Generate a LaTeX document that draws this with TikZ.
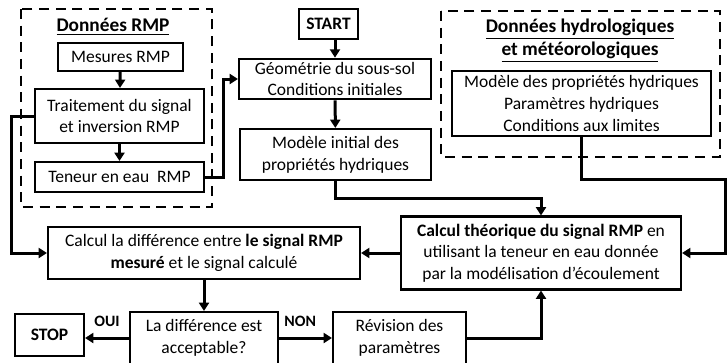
\documentclass[tikz,border=0pt]{standalone}
\usepackage{fontspec}
\setmainfont{Carlito}
\usetikzlibrary{arrows.meta,positioning}
\newcommand{\flfont}{\fontsize{10.5}{13}\selectfont}
\tikzset{
  flbox/.style={draw, line width=1.25pt, align=center, inner sep=2pt, font=\flfont},
  flframe/.style={draw, line width=1.5pt, dash pattern=on 6pt off 4pt},
  fltitle/.style={align=center, inner sep=0pt, font=\fontsize{11.6}{13.8}\selectfont\bfseries},
  flarr/.style={-{Triangle[length=5pt,width=6pt]}, line width=1.8pt},
  fltag/.style={inner sep=1pt, font=\fontsize{9.5}{11}\selectfont\bfseries}
}

\begin{document}
\begin{tikzpicture}[x=0.6pt, y=-0.6pt]
  \useasboundingbox (0,0) rectangle (727,362);
  \clip (0,0) rectangle (727,362);
  % data groups
  \draw[flframe] (21,9) rectangle (212,207);
  \draw[flframe] (441,11) rectangle (720,157);
  \node[fltitle] (rmptitle) at (113,27) {\underline{Données RMP}};
  \node[fltitle] (hydrotitle) at (580,41) {\underline{Données hydrologiques}\\\underline{et météorologiques}};
  % boxes
  \node[flbox, minimum width=75pt, minimum height=16.8pt] (mesures) at (120.5,57) {Mesures RMP};
  \node[flbox, minimum width=101.4pt, minimum height=32.4pt] (traitement) at (119.5,116) {Traitement du signal\\et inversion RMP};
  \node[flbox, minimum width=101.4pt, minimum height=18pt] (teneur) at (119.5,177) {Teneur en eau~~RMP};
  \node[flbox, minimum width=35.4pt, minimum height=18pt, font=\flfont\bfseries] (start) at (328.5,24) {START};
  \node[flbox, minimum width=115.2pt, minimum height=24pt] (geom) at (335,79) {Géométrie du sous-sol\\Conditions initiales};
  \node[flbox, minimum width=114.6pt, minimum height=30.6pt] (modinit) at (335.5,154.5) {Modèle initial des\\propriétés hydriques};
  \node[flbox, minimum width=155.4pt, minimum height=39pt] (hydrobox) at (581.5,103.5) {Modèle des propriétés hydriques\\Paramètres hydriques\\Conditions aux limites};
  \node[flbox, minimum width=168pt, minimum height=43.8pt] (theo) at (541,253) {\textbf{Calcul théorique du signal RMP} en\\utilisant la teneur en eau donnée\\par la modélisation d’écoulement};
  \node[flbox, minimum width=187.2pt, minimum height=31.2pt] (diff) at (204,253) {Calcul la différence entre \textbf{le signal RMP}\\\textbf{mesuré} et le signal calculé};
  \node[flbox, minimum width=88.8pt, minimum height=31.2pt] (accept) at (204,338) {La différence est\\acceptable?};
  \node[flbox, minimum width=41.4pt, minimum height=25.2pt, font=\flfont\bfseries] (stop) at (49.5,335) {STOP};
  \node[flbox, minimum width=79.8pt, minimum height=31.2pt] (revision) at (399.5,338) {Révision des\\paramètres};
  \coordinate (hydroturn) at (725,179);
  % connectors
  \draw[flarr] (mesures) -- (traitement);
  \draw[flarr] (traitement) -- (teneur);
  \draw[flarr] (teneur.east) -- ++(18,0) |- (geom.west);
  \draw[flarr] (geom.north |- start.south) -- (geom.north);
  \draw[flarr] (geom) -- (modinit);
  \draw[flarr] (modinit.south) -- ++(0,17) -| (theo.north);
  \draw[flarr] (hydrobox.south) |- (hydroturn) |- (theo.east);
  \draw[flarr] (theo.west) -- (diff.east);
  \draw[flarr] (traitement.west) -- ++(-22,0) |- (diff.west);
  \draw[flarr] (diff) -- (accept);
  \draw[flarr] (accept.west) -- node[fltag, above=5pt] {OUI} (accept.west -| stop.east);
  \draw[flarr] (accept.east) -- node[fltag, pos=.4, above=5pt] {NON} (revision.west);
  \draw[flarr] (revision.east) -| (theo.south);
\end{tikzpicture}
\end{document}
